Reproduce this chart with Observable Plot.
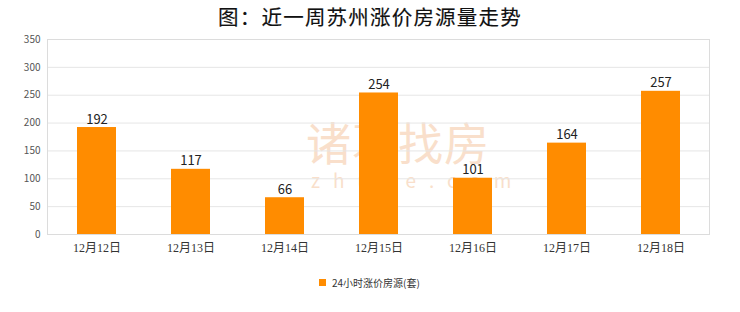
<!DOCTYPE html>
<html><head><meta charset="utf-8">
<script src="https://cdn.jsdelivr.net/npm/d3@7"></script>
<script src="https://cdn.jsdelivr.net/npm/@observablehq/plot@0.6"></script>
<style>
body{margin:0;background:#fff;font-family:"Noto Sans CJK SC","Noto Sans",sans-serif;}
#wrap{position:relative;width:740px;height:312px;overflow:hidden;background:#fff;}
#title{position:absolute;left:0;top:3px;width:740px;text-align:center;font-size:20.5px;font-weight:400;color:#111;line-height:26px;letter-spacing:1.2px;-webkit-text-stroke:0.15px #111;}
#chart{position:absolute;left:0;top:32px;z-index:2;}
#wm{position:absolute;left:306px;top:112px;font-size:45px;line-height:60px;color:#f9dfcb;font-weight:400;letter-spacing:1px;z-index:1;}
#wm2{position:absolute;left:311px;top:168px;font-size:19px;line-height:24px;color:#f9dfcb;letter-spacing:13px;z-index:1;}
#legend{position:absolute;left:319px;top:275px;font-size:10px;color:#333;display:flex;align-items:center;}
#legend span.sw{display:inline-block;width:7px;height:7px;background:#ff8c00;margin-right:6px;}
</style></head>
<body><div id="wrap">
<div id="title">图：近一周苏州涨价房源量走势</div>
<div id="wm">诸葛找房</div>
<div id="wm2">zhuge.com</div>
<div id="chart"></div>
<div id="legend"><span class="sw"></span><span id="legtext"></span></div>
</div>
<script>
const dates = ["12月12日","12月13日","12月14日","12月15日","12月16日","12月17日","12月18日"];
const values = [192,117,66,254,101,164,257];
const yTicks = [0,50,100,150,200,250,300,350];
const seriesName = "24小时涨价房源(套)";

const data = dates.map((d,i)=>({date:d, value:values[i]}));
document.getElementById("legtext").textContent = seriesName;

const chart = Plot.plot({
  width: 740,
  height: 232,
  marginLeft: 47,
  marginRight: 31,
  marginTop: 7,
  marginBottom: 30,
  style: {fontFamily: '"Noto Sans CJK SC","Noto Sans",sans-serif', background: "transparent"},
  x: {domain: dates, paddingInner: 0.59, paddingOuter: 0.295, label: null},
  y: {domain: [0,350], label: null},
  marks: [
    Plot.gridY(yTicks, {stroke: "#e6e6e6", strokeOpacity: 1}),
    Plot.frame({stroke: "#dcdcdc"}),
    Plot.barY(data, {x: "date", y: "value", fill: "#ff8c00"}),
    Plot.text(data, {x: "date", y: "value", text: d => String(d.value), dy: -8, fontSize: 13, fill: "#222"}),
    Plot.axisY(yTicks, {tickSize: 0, tickPadding: 7, fontSize: 10, fill: "#555"}),
    Plot.axisX({tickSize: 0, tickPadding: 9, fontSize: 12, fill: "#333", fontFamily: '"Liberation Serif","Noto Sans CJK SC",serif'})
  ]
});
document.getElementById("chart").appendChild(chart);
</script>
</body></html>
